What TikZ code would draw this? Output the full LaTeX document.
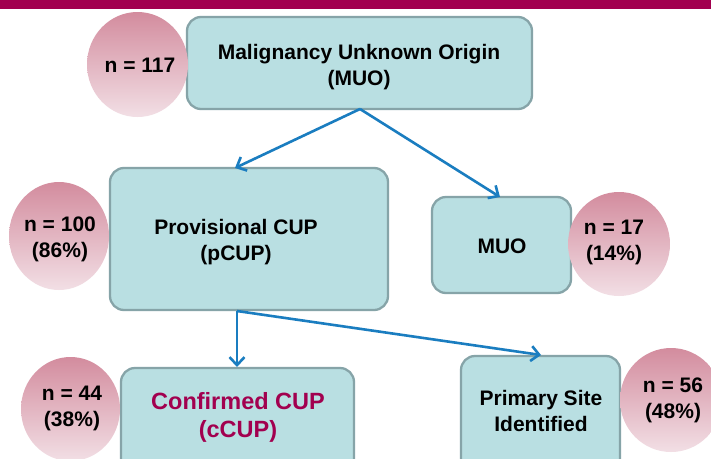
\documentclass[tikz,border=0pt]{standalone}
\usepackage{fontspec}
\setmainfont{Liberation Sans}
\usetikzlibrary{arrows.meta,shapes.geometric}
\definecolor{barred}{HTML}{A2004F}
\definecolor{boxfill}{HTML}{B9DFE2}
\definecolor{boxline}{HTML}{86A4A8}
\definecolor{circtop}{HTML}{D38C9E}
\definecolor{circbot}{HTML}{F2DFE5}
\definecolor{arrblue}{HTML}{1A7DC0}
\tikzset{
  boxnode/.style={draw=boxline, line width=2.3pt, fill=boxfill, rounded corners=14pt, inner sep=0pt},
  circnode/.style={ellipse, inner sep=0pt, top color=circtop, bottom color=circbot, draw=none},
  txt/.style={font=\fontsize{21}{26}\selectfont\bfseries, align=center, inner sep=0pt},
  bigtxt/.style={font=\fontsize{23.5}{28}\selectfont\bfseries, align=center, inner sep=0pt, text=barred},
  flow/.style={draw=arrblue, line width=2.6pt, -{Straight Barb[length=8pt,width=15pt,line width=2.6pt]}}
}
\begin{document}
\begin{tikzpicture}[x=1pt,y=-1pt]
\useasboundingbox (0,0) rectangle (711,458);
\clip (0,0) rectangle (711,458);
\fill[white] (0,0) rectangle (711,458);
\fill[barred] (0,0) rectangle (711,9);

% boxes
\node[boxnode, minimum width=345pt, minimum height=92pt] (mtop) at (359.5,63) {};
\node[boxnode, minimum width=278pt, minimum height=142pt] (pcup) at (249,239) {};
\node[boxnode, minimum width=139pt, minimum height=96pt] (muo) at (501.5,245) {};
\node[boxnode, minimum width=233pt, minimum height=130pt] (ccup) at (237.5,433) {};
\node[boxnode, minimum width=159pt, minimum height=130pt] (psite) at (540.5,421) {};

% circles
\node[circnode, minimum width=101pt, minimum height=105pt] (c117) at (137.5,64.5) {};
\node[circnode, minimum width=100pt, minimum height=108pt] (c100) at (59,236) {};
\node[circnode, minimum width=102pt, minimum height=104pt] (c17) at (619,244) {};
\node[circnode, minimum width=99pt, minimum height=104pt] (c44) at (70.5,409) {};
\node[circnode, minimum width=102pt, minimum height=104pt] (c56) at (671,400) {};

% texts
\node[txt] (tmtop) at (359,67) {Malignancy Unknown Origin\\(MUO)};
\node[txt] (tpcup) at (236,242) {Provisional CUP\\(pCUP)};
\node[txt] (tmuo) at (502,246) {MUO};
\node[bigtxt] (tccup) at (238,417) {Confirmed CUP\\(cCUP)};
\node[txt] (tpsite) at (541,411) {Primary Site\\Identified};
\node[txt] (t117) at (140,65) {n = 117};
\node[txt] (t100) at (60,239) {n = 100\\(86\%)};
\node[txt] (t17) at (614,242) {n = 17\\(14\%)};
\node[txt] (t44) at (72,408) {n = 44\\(38\%)};
\node[txt] (t56) at (673,400) {n = 56\\(48\%)};

% connector points
\coordinate (mout) at (360,109);
\coordinate (pin) at (235,168);
\coordinate (muoin) at (500,197);
\coordinate (pout) at (237,311);
\coordinate (ccin) at (237,367);
\coordinate (psin) at (541,355);

\draw[flow] (mout) -- (pin);
\draw[flow] (mout) -- (muoin);
\draw[flow] (pout) -- (ccin);
\draw[flow] (pout) -- (psin);
\end{tikzpicture}
\end{document}
